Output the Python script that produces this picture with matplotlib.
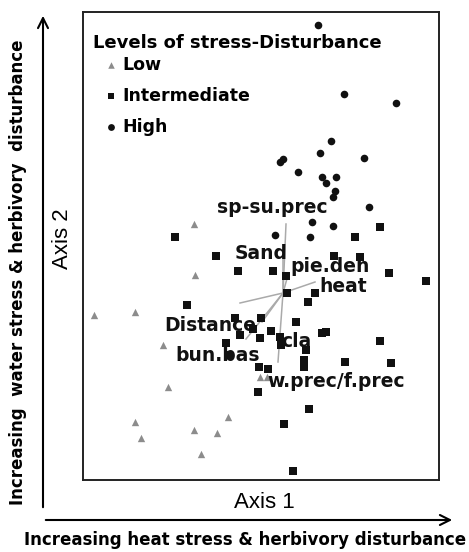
import numpy as np
import matplotlib.pyplot as plt

# ordination scores (axis 2 grows downward here, axis is inverted)
low_x = [194, 195, 94, 135, 163, 168, 135, 141, 228, 194, 217, 201, 260, 267]
low_y = [224, 275, 315, 312, 345, 387, 422, 438, 417, 430, 433, 454, 377, 377]

mid_x = [175, 380, 355, 216, 334, 360, 238, 273, 286, 389, 426, 287, 315, 308,
         187, 235, 261, 296, 253, 271, 240, 260, 280, 322, 326, 380, 226, 281,
         306, 228, 304, 304, 345, 391, 259, 268, 258, 309, 284, 293]
mid_y = [237, 227, 237, 256, 256, 257, 271, 271, 276, 273, 281, 293, 293, 302,
         305, 318, 318, 322, 329, 331, 335, 338, 337, 333, 332, 341, 343, 345,
         350, 355, 360, 367, 362, 363, 367, 369, 392, 409, 424, 471]

high_x = [318, 344, 396, 331, 320, 364, 280, 283, 298, 322, 336, 326, 335, 333,
          369, 312, 333, 275, 310]
high_y = [25, 94, 103, 141, 153, 158, 162, 159, 172, 177, 177, 183, 191, 197,
          207, 222, 226, 235, 237]

levels = ['Low', 'Intermediate', 'High']

# environmental vectors
origin = (283, 293)
vec_names = ['sp-su.prec', 'Sand', 'pie.den', 'heat', 'Distance', 'bun.bas', 'cla', 'w.prec/f.prec']
vec_x = [286, 283, 288, 315, 240, 246, 262, 278]
vec_y = [224, 250, 275, 282, 303, 339, 322, 362]

# label offsets from the vector tips (layout only)
label_off = {'sp-su.prec': (-14, -16), 'Sand': (-22, 4), 'pie.den': (42, -8),
             'heat': (28, 5), 'Distance': (-30, 23), 'bun.bas': (-28, 17),
             'cla': (34, 20), 'w.prec/f.prec': (58, 20)}

fig = plt.figure(figsize=(4.69, 5.52), dpi=100)
ax = fig.add_axes([83 / 469, 1 - 480 / 552, 356 / 469, 468 / 552])

for vx, vy in zip(vec_x, vec_y):
    ax.plot([origin[0], vx], [origin[1], vy], color='#aaaaaa', lw=1.1, zorder=1)

ax.scatter(low_x, low_y, marker='^', s=28, color='#8c8c8c', linewidths=0, zorder=2)
ax.scatter(mid_x, mid_y, marker='s', s=26, color='#111111', linewidths=0, zorder=2)
ax.scatter(high_x, high_y, marker='o', s=30, color='#111111', linewidths=0, zorder=2)

for name, vx, vy in zip(vec_names, vec_x, vec_y):
    dx, dy = label_off[name]
    ax.text(vx + dx, vy + dy, name, ha='center', va='center',
            fontsize=13.5, fontweight='bold', color='#111111', zorder=3)

ax.set_xlim(83, 439)
ax.set_ylim(480, 12)
ax.set_xticks([])
ax.set_yticks([])
for sp in ax.spines.values():
    sp.set_linewidth(1.4)
    sp.set_color('#222222')

# hand-made legend
ax.text(0.028, 0.934, 'Levels of stress-Disturbance', transform=ax.transAxes,
        ha='left', va='center', fontsize=13, fontweight='bold')
styles = [('^', '#8c8c8c', 22), ('s', '#111111', 22), ('o', '#111111', 24)]
for i, (lab, (m, c, s)) in enumerate(zip(levels, styles)):
    yy = 0.887 - i * 0.066
    ax.scatter([0.079], [yy], marker=m, s=s, color=c, linewidths=0, transform=ax.transAxes)
    ax.text(0.110, yy, lab, transform=ax.transAxes, ha='left', va='center',
            fontsize=12.5, fontweight='bold')

fig.text(264 / 469, 1 - 503 / 552, 'Axis 1', ha='center', va='center',
         fontsize=16, family='Liberation Sans')
fig.text(62 / 469, 1 - 239 / 552, 'Axis 2', ha='center', va='center', rotation=90,
         fontsize=16, family='Liberation Sans')

# outer gradient arrows
ax.annotate('', xy=(455 / 469, 1 - 520 / 552), xytext=(43 / 469, 1 - 520 / 552),
            xycoords='figure fraction', textcoords='figure fraction',
            arrowprops=dict(arrowstyle='->', lw=1.5, color='black', mutation_scale=18))
ax.annotate('', xy=(43 / 469, 1 - 13 / 552), xytext=(43 / 469, 1 - 510 / 552),
            xycoords='figure fraction', textcoords='figure fraction',
            arrowprops=dict(arrowstyle='->', lw=1.5, color='black', mutation_scale=18))

fig.text(245 / 469, 1 - 540 / 552, 'Increasing heat stress & herbivory disturbance',
         ha='center', va='center', fontsize=12, fontweight='bold')
fig.text(18 / 469, 1 - 272 / 552, 'Increasing  water stress & herbivory  disturbance',
         ha='center', va='center', rotation=90, fontsize=12, fontweight='bold')

fig.savefig('out.png', dpi=100)
